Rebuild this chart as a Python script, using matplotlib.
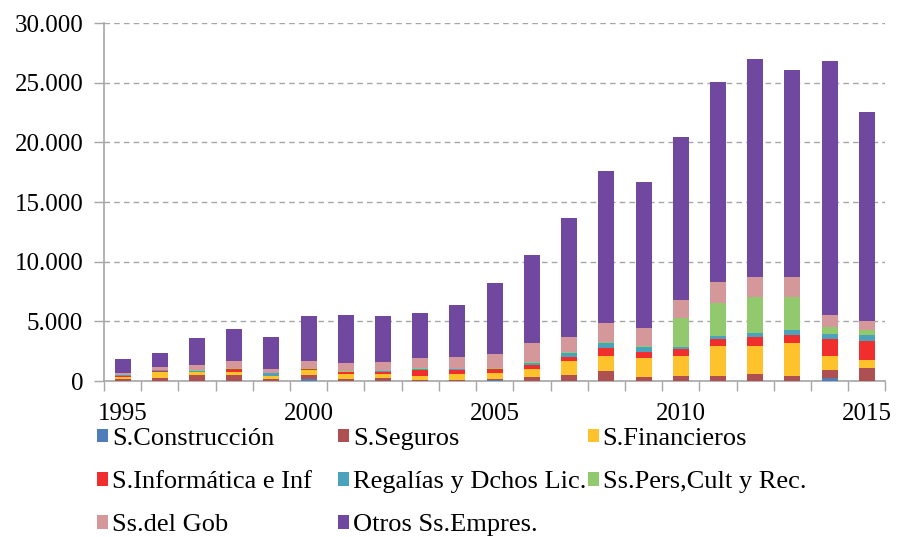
import numpy as np
import matplotlib
matplotlib.use('Agg')
import matplotlib.pyplot as plt
from matplotlib.ticker import FuncFormatter

# years on the x axis
years = list(range(1995, 2016))

# stacked series (bottom to top)
construccion = [10, 10, 20, 20, 20, 170, 20, 40, 10, 30, 50, 20, 20, 20, 20, 20, 20, 20, 20, 220, 20]
seguros = [120, 220, 450, 450, 110, 360, 140, 250, 110, 30, 140, 310, 500, 840, 310, 420, 420, 530, 420, 700, 1030]
financieros = [240, 500, 250, 280, 280, 420, 390, 280, 330, 530, 475, 700, 1120, 1200, 1620, 1620, 2510, 2400, 2710, 1200, 700]
informatica = [50, 140, 40, 220, 30, 30, 200, 200, 500, 330, 310, 335, 360, 670, 500, 615, 530, 700, 725, 1420, 1620]
regalias = [70, 30, 80, 50, 220, 50, 40, 40, 30, 80, 30, 140, 335, 420, 390, 195, 310, 335, 420, 420, 500]
personales = [20, 50, 60, 80, 30, 80, 80, 60, 80, 20, 80, 110, 110, 140, 110, 2400, 2710, 3015, 2710, 585, 420]
gobierno = [130, 200, 470, 560, 280, 560, 610, 750, 840, 980, 1150, 1560, 1280, 1560, 1480, 1510, 1790, 1700, 1700, 1000, 700]
otros = [1170, 1200, 2200, 2700, 2700, 3780, 4080, 3830, 3770, 4390, 6000, 7400, 9950, 12770, 12270, 13690, 16760, 18270, 17355, 21280, 17550]

labels = ['S.Construcción', 'S.Seguros', 'S.Financieros', 'S.Informática e Inf',
          'Regalías y Dchos Lic.', 'Ss.Pers,Cult y Rec.', 'Ss.del Gob', 'Otros Ss.Empres.']
series = [construccion, seguros, financieros, informatica, regalias, personales, gobierno, otros]
colors = ['#4F7DBA', '#AE5051', '#FEC22C', '#F02E2E', '#4AA3BB', '#92C96E', '#D4979A', '#70489F']

plt.rcParams['font.family'] = ['Liberation Serif', 'DejaVu Serif']

fig = plt.figure(figsize=(8.97, 5.37), dpi=100)
ax = fig.add_axes([0.116, 0.2905, 0.871, 0.6665])

x = np.arange(len(years))
bottom = np.zeros(len(years))
bars = []
for vals, lab, col in zip(series, labels, colors):
    b = ax.bar(x, vals, width=0.43, bottom=bottom, color=col, label=lab, zorder=3)
    bars.append(b)
    bottom += np.array(vals)

ax.set_xlim(-0.5, len(years) - 0.5)
ax.set_ylim(0, 30000)
ax.set_yticks(np.arange(0, 30001, 5000))
ax.yaxis.set_major_formatter(FuncFormatter(lambda v, p: f'{int(v):,}'.replace(',', '.')))
ax.yaxis.grid(True, linestyle=(0, (4, 3)), color='#A6A6A6', linewidth=1.0, zorder=0)

ax.set_xticks(x[::5])
ax.set_xticklabels([str(y) for y in years[::5]])
ax.set_xticks(np.arange(-0.5, len(years), 1), minor=True)

ax.tick_params(axis='x', which='major', length=0, pad=16, labelsize=18)
ax.tick_params(axis='x', which='minor', length=7, color='#A6A6A6', width=1)
ax.tick_params(axis='y', length=7, color='#A6A6A6', width=1, pad=8, labelsize=18)

for s in ['top', 'right']:
    ax.spines[s].set_visible(False)
for s in ['left', 'bottom']:
    ax.spines[s].set_color('#A6A6A6')
    ax.spines[s].set_linewidth(1.2)

# legend laid out in three columns, like the original
cols = [[0, 3, 6], [1, 4, 7], [2, 5]]
xs = [0.108, 0.377, 0.655]
for idx, xpos in zip(cols, xs):
    fig.legend([bars[i] for i in idx], [labels[i] for i in idx],
               loc='upper left', bbox_to_anchor=(xpos, 0.203), frameon=False,
               fontsize=19, handlelength=0.42, handleheight=0.42, handletextpad=0.15,
               labelspacing=0.8, borderpad=0, borderaxespad=0)

fig.savefig('out.png', dpi=100)
